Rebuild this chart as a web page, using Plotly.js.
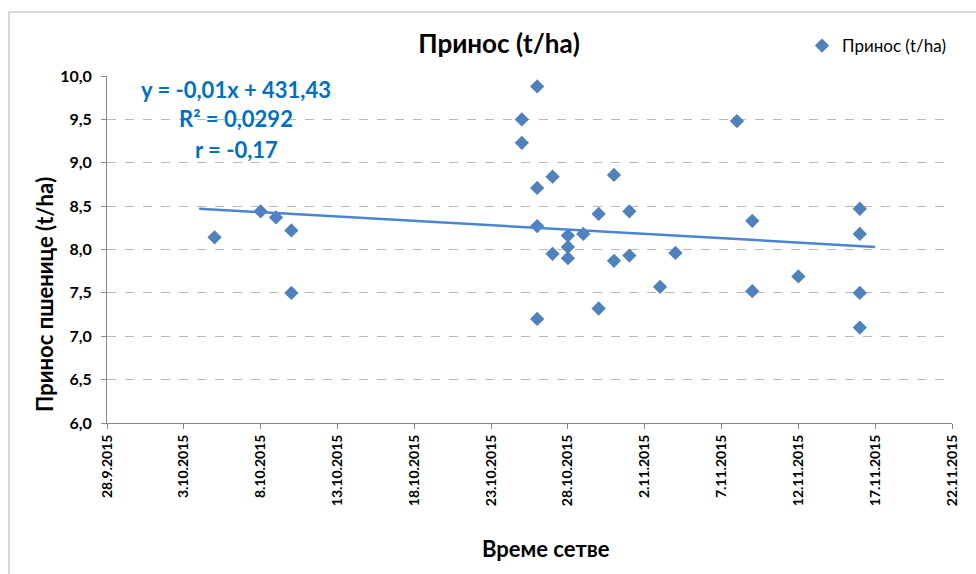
<!DOCTYPE html>
<html>
<head>
<meta charset="utf-8">
<script src="https://cdn.plot.ly/plotly-3.0.1.min.js"></script>
<style>html,body{margin:0;padding:0;background:#fff;}#chart{width:976px;height:574px;}</style>
</head>
<body>
<div id="chart"></div>
<script>
// Sowing dates and yields (t/ha)
const sowingDates = [
  '2015-10-05','2015-10-08','2015-10-09','2015-10-10','2015-10-10',
  '2015-10-25','2015-10-25','2015-10-26','2015-10-26','2015-10-26','2015-10-26',
  '2015-10-27','2015-10-27','2015-10-28','2015-10-28','2015-10-28',
  '2015-10-29','2015-10-30','2015-10-30','2015-10-31','2015-10-31',
  '2015-11-01','2015-11-01','2015-11-03','2015-11-04',
  '2015-11-08','2015-11-09','2015-11-09','2015-11-12',
  '2015-11-16','2015-11-16','2015-11-16','2015-11-16'
];
const yields = [
  8.14, 8.44, 8.37, 8.22, 7.50,
  9.50, 9.23, 9.88, 8.71, 8.27, 7.20,
  8.84, 7.95, 8.16, 8.03, 7.90,
  8.18, 8.41, 7.32, 8.86, 7.87,
  8.44, 7.93, 7.57, 7.96,
  9.48, 8.33, 7.52, 7.69,
  8.47, 8.18, 7.50, 7.10
];
// Linear trendline end points as drawn in the picture
const trendDates = ['2015-10-04', '2015-11-17'];
const trendValues = [8.47, 8.03];
const eqLines = ['y = -0,01x + 431,43', 'R² = 0,0292', 'r = -0,17'];
const yTicks = [6.0, 6.5, 7.0, 7.5, 8.0, 8.5, 9.0, 9.5, 10.0];
const xTitle = 'Време сетве';
const yTitle = 'Принос пшенице (t/ha)';

const font = 'Lato, "Liberation Sans", Arial, sans-serif';

const traces = [
  {
    x: sowingDates, y: yields, type: 'scatter', mode: 'markers',
    name: 'Принос (t/ha)',
    marker: {symbol: 'diamond', size: 11, color: '#4F81BD', line: {width: 0}},
    showlegend: true
  },
  {
    x: trendDates, y: trendValues, type: 'scatter', mode: 'lines',
    line: {color: '#4A85D4', width: 2.5}, showlegend: false, hoverinfo: 'skip'
  }
];

const px = v => (v - 107) / 845;
const py = v => 1 - (v - 76) / 347;

const annotations = [
  {text: eqLines[0], x: px(236), y: py(89)},
  {text: eqLines[1], x: px(236), y: py(119)},
  {text: eqLines[2], x: px(236), y: py(149)}
].map(a => Object.assign(a, {
  xref: 'paper', yref: 'paper',
  showarrow: false, xanchor: 'center', yanchor: 'middle',
  text: '<b>' + a.text + '</b>',
  font: {family: font, size: 22, color: '#0070C0'}
}));
annotations.push({
  text: '<b>' + xTitle + '</b>', x: px(546), y: py(548), xref: 'paper', yref: 'paper',
  showarrow: false, xanchor: 'center', yanchor: 'middle',
  font: {family: font, size: 22, color: '#000'}
});
annotations.push({
  text: '<b>' + yTitle + '</b>', x: px(44), y: py(295), xref: 'paper', yref: 'paper',
  showarrow: false, xanchor: 'center', yanchor: 'middle', textangle: -90,
  font: {family: font, size: 22, color: '#000'}
});

const layout = {
  width: 976, height: 574,
  margin: {l: 107, r: 24, t: 76, b: 151},
  paper_bgcolor: '#ffffff', plot_bgcolor: '#ffffff',
  separators: ',.',
  font: {family: font, color: '#000'},
  title: {
    text: '<b>Принос (t/ha)</b>',
    font: {family: font, size: 26, color: '#000'},
    x: 499/976, xref: 'container', xanchor: 'center',
    y: 1 - 44/574, yref: 'container', yanchor: 'middle'
  },
  showlegend: true,
  legend: {
    x: 1.0, y: py(46), xref: 'paper', yref: 'paper',
    xanchor: 'right', yanchor: 'middle',
    font: {family: font, size: 17, color: '#000'},
    bgcolor: 'rgba(0,0,0,0)', itemwidth: 12
  },
  xaxis: {
    type: 'date',
    range: ['2015-09-28', '2015-11-22'],
    tick0: '2015-09-28', dtick: 5 * 86400000,
    tickformat: '%-d.%-m.%Y', tickangle: -90,
    tickfont: {family: font, size: 14, color: '#000', weight: 'bold'},
    ticks: 'outside', ticklen: 5, tickcolor: '#888',
    showline: true, linecolor: '#888', linewidth: 1,
    showgrid: false, zeroline: false
  },
  yaxis: {
    range: [6.0, 10.0], tickvals: yTicks, tickformat: '.1f',
    tickfont: {family: font, size: 16, color: '#000', weight: 'bold'},
    ticks: 'outside', ticklen: 5, tickcolor: '#888', ticklabelstandoff: 6,
    showline: true, linecolor: '#888', linewidth: 1,
    showgrid: true, gridcolor: '#b8b8b8', griddash: 'dash', gridwidth: 1,
    zeroline: false
  },
  annotations: annotations,
  shapes: [
    {type: 'line', xref: 'paper', yref: 'paper', x0: px(9), x1: px(980),
     y0: py(12), y1: py(12), line: {color: '#b0b0b0', width: 1}},
    {type: 'line', xref: 'paper', yref: 'paper', x0: px(9), x1: px(9),
     y0: py(12), y1: py(580), line: {color: '#b0b0b0', width: 1}}
  ]
};

Plotly.newPlot('chart', traces, layout, {displayModeBar: false, staticPlot: true});
</script>
</body>
</html>
